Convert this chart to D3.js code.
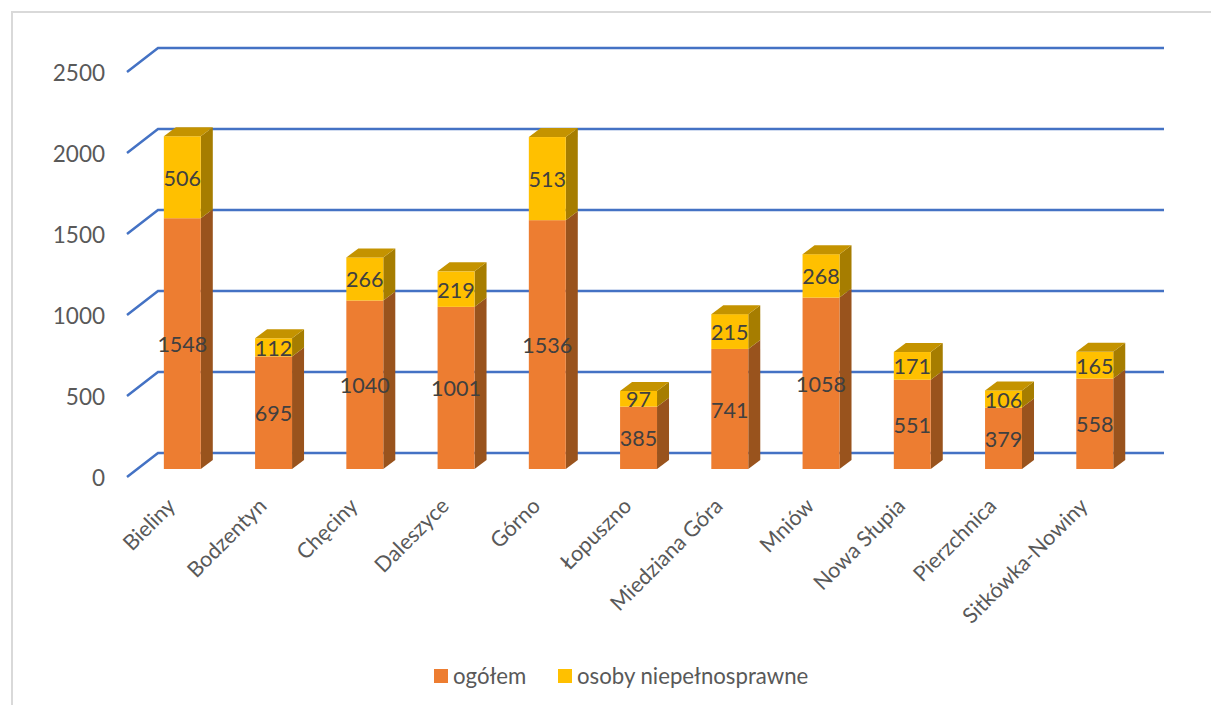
<!DOCTYPE html>
<html>
<head>
<meta charset="utf-8">
<script src="https://cdn.jsdelivr.net/npm/d3@7"></script>
<style>
  html, body { margin: 0; padding: 0; background: #fff; overflow: hidden; }
  text { font-family: Lato, "Open Sans", sans-serif; }
</style>
</head>
<body>
<svg id="chart" width="1211" height="705"></svg>
<script>
var categories = ['Bieliny', 'Bodzentyn', 'Chęciny', 'Daleszyce', 'Górno', 'Łopuszno',
  'Miedziana Góra', 'Mniów', 'Nowa Słupia', 'Pierzchnica', 'Sitkówka-Nowiny']
var ogolem = [1548, 695, 1040, 1001, 1536, 385, 741, 1058, 551, 379, 558]
var niepelnosprawne = [506, 112, 266, 219, 513, 97, 215, 268, 171, 106, 165]
var yTicks = [0, 500, 1000, 1500, 2000, 2500]
var seriesNames = ['ogółem', 'osoby niepełnosprawne']

var colors = [
  {front: '#ed7d31', side: '#99531d', top: '#b8662a'},
  {front: '#ffc000', side: '#a67d00', top: '#c49300'}
]

var svg = d3.select('#chart')

// chart frame, the right and bottom edges are cut off in the picture
svg.append('path')
  .attr('d', 'M12,705V12H1211')
  .attr('fill', 'none')
  .attr('stroke', '#d9d9d9')
  .attr('stroke-width', 2)

var x = d3.scaleBand()
  .domain(categories)
  .range([136.7, 1140.4])
  .paddingInner(0.595)
  .paddingOuter(0.2975)

var y = d3.scaleLinear()
  .domain([0, 2500])
  .range([469, 64])

// 3d offsets: bar depth and floor (gridline) depth
var depth = {dx: 12, dy: -9}
var floor = {x0: 127, x1: 158, x2: 1164, front: 8, back: -16}

// gridlines
svg.append('g')
  .selectAll('path')
  .data(yTicks)
  .enter().append('path')
  .attr('d', function (d) {
    return 'M' + floor.x0 + ',' + (y(d) + floor.front) +
      'L' + floor.x1 + ',' + (y(d) + floor.back) +
      'H' + floor.x2
  })
  .attr('fill', 'none')
  .attr('stroke', '#4472c4')
  .attr('stroke-width', 2.5)

// y axis labels
var yAxis = svg.append('g')
  .attr('transform', 'translate(105,' + (floor.front + 1) + ')')
  .call(d3.axisLeft(y).tickValues(yTicks).tickSize(0).tickPadding(0).tickFormat(d3.format('d')))
yAxis.select('.domain').remove()
yAxis.selectAll('text')
  .attr('font-size', 22.5)
  .attr('fill', '#595959')
  .style('font-family', 'Lato, "Open Sans", sans-serif')

// stacked bars
var rows = categories.map(function (c, i) {
  return {name: c, parts: [
    {s: 0, y0: 0, y1: ogolem[i], v: ogolem[i]},
    {s: 1, y0: ogolem[i], y1: ogolem[i] + niepelnosprawne[i], v: niepelnosprawne[i]}
  ]}
})

var bar = svg.append('g').selectAll('g')
  .data(rows)
  .enter().append('g')

bar.each(function (row) {
  var g = d3.select(this)
  var x0 = x(row.name)
  var w = x.bandwidth()
  row.parts.forEach(function (p) {
    var yb = y(p.y0)
    var yt = y(p.y1)
    // side
    g.append('path')
      .attr('d', 'M' + (x0 + w) + ',' + yb + 'l' + depth.dx + ',' + depth.dy +
        'V' + (yt + depth.dy) + 'L' + (x0 + w) + ',' + yt + 'Z')
      .attr('fill', colors[p.s].side)
    // front
    g.append('rect')
      .attr('x', x0)
      .attr('y', yt)
      .attr('width', w)
      .attr('height', yb - yt)
      .attr('fill', colors[p.s].front)
  })
  // top of the stack
  var last = row.parts[1]
  g.append('path')
    .attr('d', 'M' + x0 + ',' + y(last.y1) + 'l' + depth.dx + ',' + depth.dy +
      'h' + w + 'l' + (-depth.dx) + ',' + (-depth.dy) + 'Z')
    .attr('fill', colors[1].top)
  // value labels
  row.parts.forEach(function (p) {
    g.append('text')
      .attr('x', x0 + w / 2)
      .attr('y', (y(p.y0) + y(p.y1)) / 2 + 1)
      .attr('dy', '0.35em')
      .attr('text-anchor', 'middle')
      .attr('font-size', 21.5)
      .attr('fill', '#404040')
      .text(p.v)
  })
})

// category labels
svg.append('g').selectAll('text')
  .data(categories)
  .enter().append('text')
  .attr('transform', function (d) {
    return 'translate(' + (x(d) + x.bandwidth() / 2 - 11) + ',502) rotate(-45)'
  })
  .attr('text-anchor', 'end')
  .attr('dy', '0.35em')
  .attr('font-size', 21.5)
  .attr('fill', '#595959')
  .text(function (d) { return d })

// legend
var legendX = [434, 558]
var legend = svg.append('g').selectAll('g')
  .data(seriesNames)
  .enter().append('g')
  .attr('transform', function (d, i) { return 'translate(' + legendX[i] + ',669)' })
legend.append('rect')
  .attr('width', 14)
  .attr('height', 14)
  .attr('fill', function (d, i) { return colors[i].front })
legend.append('text')
  .attr('x', 19)
  .attr('y', 7)
  .attr('dy', '0.35em')
  .attr('font-size', 22.2)
  .attr('fill', '#595959')
  .text(function (d) { return d })
</script>
</body>
</html>
